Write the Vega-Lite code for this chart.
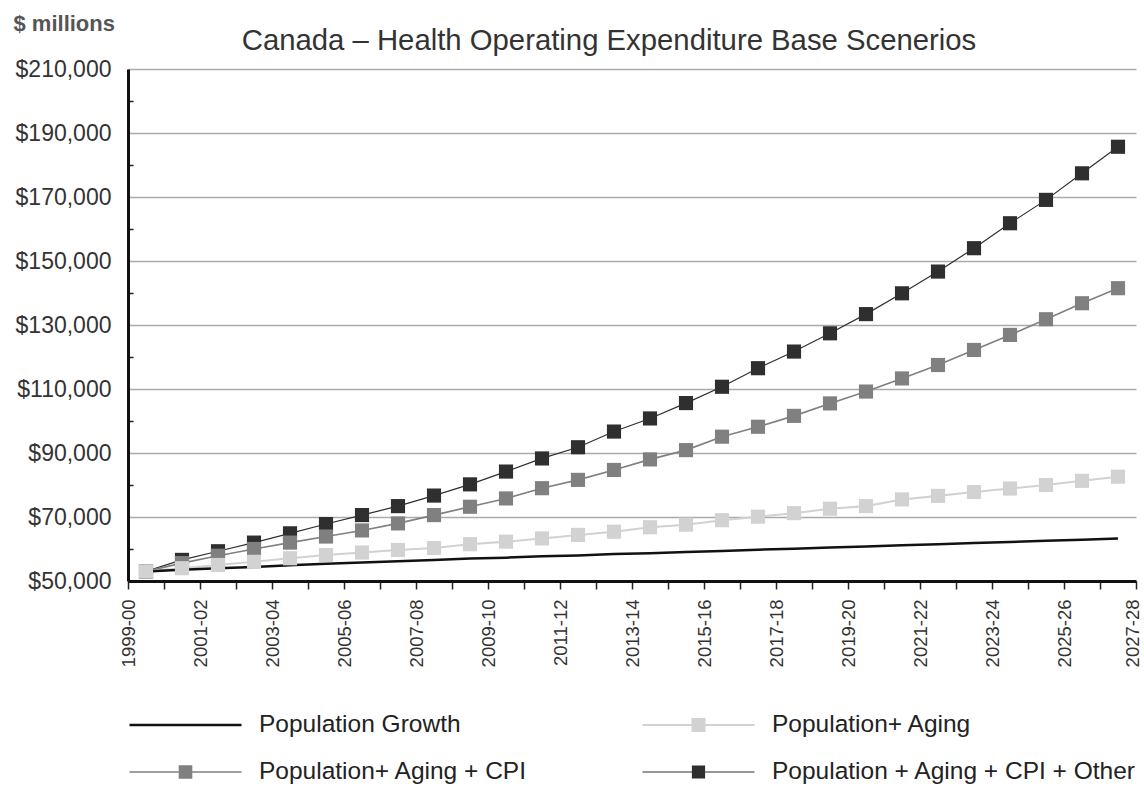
{
  "$schema": "https://vega.github.io/schema/vega-lite/v6.json",
  "width": 1008,
  "height": 512,
  "autosize": {"type": "none"},
  "padding": {"left": 128, "top": 69, "right": 8, "bottom": 207},
  "background": "white",
  "config": {"view": {"stroke": null}, "font": "Liberation Sans"},
  "title": {
    "text": "Canada – Health Operating Expenditure Base Scenerios",
    "font": "Liberation Sans",
    "fontSize": 29.3,
    "fontWeight": "normal",
    "color": "#333333",
    "anchor": "middle",
    "frame": "group",
    "dx": -23,
    "dy": 44,
    "offset": 0
  },
  "datasets": {
    "main": [
      {"year": "1999-00", "series": "Population + Aging + CPI + Other", "value": 53000},
      {"year": "2000-01", "series": "Population + Aging + CPI + Other", "value": 56600},
      {"year": "2001-02", "series": "Population + Aging + CPI + Other", "value": 59300},
      {"year": "2002-03", "series": "Population + Aging + CPI + Other", "value": 62000},
      {"year": "2003-04", "series": "Population + Aging + CPI + Other", "value": 64900},
      {"year": "2004-05", "series": "Population + Aging + CPI + Other", "value": 67800},
      {"year": "2005-06", "series": "Population + Aging + CPI + Other", "value": 70600},
      {"year": "2006-07", "series": "Population + Aging + CPI + Other", "value": 73400},
      {"year": "2007-08", "series": "Population + Aging + CPI + Other", "value": 76700},
      {"year": "2008-09", "series": "Population + Aging + CPI + Other", "value": 80200},
      {"year": "2009-10", "series": "Population + Aging + CPI + Other", "value": 84200},
      {"year": "2010-11", "series": "Population + Aging + CPI + Other", "value": 88300},
      {"year": "2011-12", "series": "Population + Aging + CPI + Other", "value": 91800},
      {"year": "2012-13", "series": "Population + Aging + CPI + Other", "value": 96700},
      {"year": "2013-14", "series": "Population + Aging + CPI + Other", "value": 100800},
      {"year": "2014-15", "series": "Population + Aging + CPI + Other", "value": 105600},
      {"year": "2015-16", "series": "Population + Aging + CPI + Other", "value": 110700},
      {"year": "2016-17", "series": "Population + Aging + CPI + Other", "value": 116500},
      {"year": "2017-18", "series": "Population + Aging + CPI + Other", "value": 121700},
      {"year": "2018-19", "series": "Population + Aging + CPI + Other", "value": 127400},
      {"year": "2019-20", "series": "Population + Aging + CPI + Other", "value": 133400},
      {"year": "2020-21", "series": "Population + Aging + CPI + Other", "value": 139900},
      {"year": "2021-22", "series": "Population + Aging + CPI + Other", "value": 146700},
      {"year": "2022-23", "series": "Population + Aging + CPI + Other", "value": 154000},
      {"year": "2023-24", "series": "Population + Aging + CPI + Other", "value": 161800},
      {"year": "2024-25", "series": "Population + Aging + CPI + Other", "value": 169100},
      {"year": "2025-26", "series": "Population + Aging + CPI + Other", "value": 177400},
      {"year": "2026-27", "series": "Population + Aging + CPI + Other", "value": 185700},
      {"year": "1999-00", "series": "Population+ Aging + CPI", "value": 53000},
      {"year": "2000-01", "series": "Population+ Aging + CPI", "value": 55600},
      {"year": "2001-02", "series": "Population+ Aging + CPI", "value": 57900},
      {"year": "2002-03", "series": "Population+ Aging + CPI", "value": 60000},
      {"year": "2003-04", "series": "Population+ Aging + CPI", "value": 62000},
      {"year": "2004-05", "series": "Population+ Aging + CPI", "value": 63900},
      {"year": "2005-06", "series": "Population+ Aging + CPI", "value": 65800},
      {"year": "2006-07", "series": "Population+ Aging + CPI", "value": 68000},
      {"year": "2007-08", "series": "Population+ Aging + CPI", "value": 70600},
      {"year": "2008-09", "series": "Population+ Aging + CPI", "value": 73200},
      {"year": "2009-10", "series": "Population+ Aging + CPI", "value": 75800},
      {"year": "2010-11", "series": "Population+ Aging + CPI", "value": 79000},
      {"year": "2011-12", "series": "Population+ Aging + CPI", "value": 81600},
      {"year": "2012-13", "series": "Population+ Aging + CPI", "value": 84700},
      {"year": "2013-14", "series": "Population+ Aging + CPI", "value": 88000},
      {"year": "2014-15", "series": "Population+ Aging + CPI", "value": 90900},
      {"year": "2015-16", "series": "Population+ Aging + CPI", "value": 95100},
      {"year": "2016-17", "series": "Population+ Aging + CPI", "value": 98200},
      {"year": "2017-18", "series": "Population+ Aging + CPI", "value": 101600},
      {"year": "2018-19", "series": "Population+ Aging + CPI", "value": 105500},
      {"year": "2019-20", "series": "Population+ Aging + CPI", "value": 109200},
      {"year": "2020-21", "series": "Population+ Aging + CPI", "value": 113300},
      {"year": "2021-22", "series": "Population+ Aging + CPI", "value": 117500},
      {"year": "2022-23", "series": "Population+ Aging + CPI", "value": 122200},
      {"year": "2023-24", "series": "Population+ Aging + CPI", "value": 126900},
      {"year": "2024-25", "series": "Population+ Aging + CPI", "value": 131800},
      {"year": "2025-26", "series": "Population+ Aging + CPI", "value": 136800},
      {"year": "2026-27", "series": "Population+ Aging + CPI", "value": 141500},
      {"year": "1999-00", "series": "Population+ Aging", "value": 53000},
      {"year": "2000-01", "series": "Population+ Aging", "value": 54000},
      {"year": "2001-02", "series": "Population+ Aging", "value": 55000},
      {"year": "2002-03", "series": "Population+ Aging", "value": 56000},
      {"year": "2003-04", "series": "Population+ Aging", "value": 57100},
      {"year": "2004-05", "series": "Population+ Aging", "value": 58100},
      {"year": "2005-06", "series": "Population+ Aging", "value": 58900},
      {"year": "2006-07", "series": "Population+ Aging", "value": 59700},
      {"year": "2007-08", "series": "Population+ Aging", "value": 60300},
      {"year": "2008-09", "series": "Population+ Aging", "value": 61500},
      {"year": "2009-10", "series": "Population+ Aging", "value": 62300},
      {"year": "2010-11", "series": "Population+ Aging", "value": 63300},
      {"year": "2011-12", "series": "Population+ Aging", "value": 64400},
      {"year": "2012-13", "series": "Population+ Aging", "value": 65400},
      {"year": "2013-14", "series": "Population+ Aging", "value": 66800},
      {"year": "2014-15", "series": "Population+ Aging", "value": 67600},
      {"year": "2015-16", "series": "Population+ Aging", "value": 69000},
      {"year": "2016-17", "series": "Population+ Aging", "value": 70100},
      {"year": "2017-18", "series": "Population+ Aging", "value": 71200},
      {"year": "2018-19", "series": "Population+ Aging", "value": 72600},
      {"year": "2019-20", "series": "Population+ Aging", "value": 73400},
      {"year": "2020-21", "series": "Population+ Aging", "value": 75500},
      {"year": "2021-22", "series": "Population+ Aging", "value": 76600},
      {"year": "2022-23", "series": "Population+ Aging", "value": 77800},
      {"year": "2023-24", "series": "Population+ Aging", "value": 78900},
      {"year": "2024-25", "series": "Population+ Aging", "value": 80000},
      {"year": "2025-26", "series": "Population+ Aging", "value": 81300},
      {"year": "2026-27", "series": "Population+ Aging", "value": 82600},
      {"year": "1999-00", "series": "Population Growth", "value": 53000},
      {"year": "2000-01", "series": "Population Growth", "value": 53500},
      {"year": "2001-02", "series": "Population Growth", "value": 54000},
      {"year": "2002-03", "series": "Population Growth", "value": 54400},
      {"year": "2003-04", "series": "Population Growth", "value": 54900},
      {"year": "2004-05", "series": "Population Growth", "value": 55400},
      {"year": "2005-06", "series": "Population Growth", "value": 55800},
      {"year": "2006-07", "series": "Population Growth", "value": 56200},
      {"year": "2007-08", "series": "Population Growth", "value": 56600},
      {"year": "2008-09", "series": "Population Growth", "value": 57000},
      {"year": "2009-10", "series": "Population Growth", "value": 57300},
      {"year": "2010-11", "series": "Population Growth", "value": 57700},
      {"year": "2011-12", "series": "Population Growth", "value": 58000},
      {"year": "2012-13", "series": "Population Growth", "value": 58400},
      {"year": "2013-14", "series": "Population Growth", "value": 58700},
      {"year": "2014-15", "series": "Population Growth", "value": 59100},
      {"year": "2015-16", "series": "Population Growth", "value": 59400},
      {"year": "2016-17", "series": "Population Growth", "value": 59800},
      {"year": "2017-18", "series": "Population Growth", "value": 60100},
      {"year": "2018-19", "series": "Population Growth", "value": 60500},
      {"year": "2019-20", "series": "Population Growth", "value": 60800},
      {"year": "2020-21", "series": "Population Growth", "value": 61200},
      {"year": "2021-22", "series": "Population Growth", "value": 61500},
      {"year": "2022-23", "series": "Population Growth", "value": 61900},
      {"year": "2023-24", "series": "Population Growth", "value": 62200},
      {"year": "2024-25", "series": "Population Growth", "value": 62600},
      {"year": "2025-26", "series": "Population Growth", "value": 62900},
      {"year": "2026-27", "series": "Population Growth", "value": 63300}
    ],
    "ticks": [
      {"label": "1999-00"}, {"label": "2000-01"}, {"label": "2001-02"}, {"label": "2002-03"},
      {"label": "2003-04"}, {"label": "2004-05"}, {"label": "2005-06"}, {"label": "2006-07"},
      {"label": "2007-08"}, {"label": "2008-09"}, {"label": "2009-10"}, {"label": "2010-11"},
      {"label": "2011-12"}, {"label": "2012-13"}, {"label": "2013-14"}, {"label": "2014-15"},
      {"label": "2015-16"}, {"label": "2016-17"}, {"label": "2017-18"}, {"label": "2018-19"},
      {"label": "2019-20"}, {"label": "2020-21"}, {"label": "2021-22"}, {"label": "2022-23"},
      {"label": "2023-24"}, {"label": "2024-25"}, {"label": "2025-26"}, {"label": "2026-27"},
      {"label": "2027-28"}
    ]
  },
  "layer": [
    {
      "data": {"name": "main"},
      "encoding": {
        "x": {"field": "year", "type": "ordinal", "scale": {"type": "point", "padding": 0.5}, "axis": null},
        "y": {
          "field": "value",
          "type": "quantitative",
          "scale": {"domain": [50000, 210000], "nice": false, "zero": false},
          "axis": {
            "values": [50000, 60000, 70000, 80000, 90000, 100000, 110000, 120000, 130000, 140000, 150000, 160000, 170000, 180000, 190000, 200000, 210000],
            "labelExpr": "datum.value % 20000 == 10000 ? '$' + format(datum.value, ',') : ''",
            "labelFont": "Liberation Sans",
            "labelFontSize": 23,
            "labelColor": "#333333",
            "labelPadding": 22,
            "tickSize": -5,
            "tickColor": "#222222",
            "tickWidth": 1.5,
            "tickOpacity": {"condition": {"test": "datum.value % 20000 == 0", "value": 1}, "value": 0},
            "grid": true,
            "gridColor": "#aaaaaa",
            "gridWidth": 1.5,
            "gridOpacity": {"condition": {"test": "datum.value % 20000 == 10000", "value": 1}, "value": 0},
            "domain": true,
            "domainColor": "#111111",
            "domainWidth": 3,
            "title": "$ millions",
            "titleFont": "Liberation Sans",
            "titleFontSize": 22,
            "titleFontWeight": "bold",
            "titleColor": "#555555",
            "titleAngle": 0,
            "titleAlign": "left",
            "titleBaseline": "alphabetic",
            "titleX": -115,
            "titleY": -39
          }
        },
        "color": {
          "field": "series",
          "type": "nominal",
          "scale": {
            "domain": ["Population Growth", "Population+ Aging", "Population+ Aging + CPI", "Population + Aging + CPI + Other"],
            "range": ["#111111", "#d2d2d2", "#808080", "#2f2f2f"]
          },
          "legend": {
            "orient": "none",
            "legendX": 0,
            "legendY": 644,
            "direction": "horizontal",
            "columns": 2,
            "columnPadding": 113,
            "rowPadding": 22,
            "title": null,
            "symbolType": "M-1,0H1M-0.107,-0.107H0.107V0.107H-0.107Z",
            "symbolSize": 12544,
            "symbolStrokeWidth": 1.5,
            "clipHeight": 24,
            "labelFont": "Liberation Sans",
            "labelFontSize": 24.5,
            "labelColor": "#222222",
            "labelOffset": 16,
            "labelLimit": 0,
            "encode": {
              "symbols": {
                "update": {
                  "shape": {"signal": "datum.value === 'Population Growth' ? 'M-1,0H1' : 'M-1,0H1M-0.107,-0.107H0.107V0.107H-0.107Z'"},
                  "fill": {"scale": "color", "field": "value"},
                  "stroke": {"scale": "color", "field": "value"},
                  "strokeWidth": {"signal": "datum.value === 'Population Growth' || datum.value === 'Population + Aging + CPI + Other' ? 2.5 : 1.5"},
                  "opacity": {"value": 1}
                }
              }
            }
          }
        }
      },
      "layer": [
        {
          "mark": {"type": "line"},
          "encoding": {
            "strokeWidth": {
              "field": "series",
              "type": "nominal",
              "scale": {
                "domain": ["Population Growth", "Population+ Aging", "Population+ Aging + CPI", "Population + Aging + CPI + Other"],
                "range": [2.5, 1.2, 1.5, 2]
              },
              "legend": null
            }
          }
        },
        {
          "transform": [{"filter": "datum.series !== 'Population Growth'"}],
          "mark": {"type": "point", "shape": "square", "filled": true, "size": 200, "opacity": 1, "strokeWidth": 0}
        }
      ]
    },
    {
      "data": {"name": "ticks"},
      "mark": {"type": "rule", "opacity": 0},
      "encoding": {
        "x": {
          "field": "label",
          "type": "ordinal",
          "scale": {"type": "point", "padding": 0},
          "axis": {
            "orient": "bottom",
            "title": null,
            "grid": false,
            "domain": true,
            "domainColor": "#111111",
            "domainWidth": 3,
            "ticks": true,
            "tickSize": 8,
            "tickColor": "#222222",
            "tickWidth": 1.5,
            "labelAngle": -90,
            "labelFont": "Liberation Sans",
            "labelFontSize": 18.5,
            "labelColor": "#333333",
            "labelPadding": 10,
            "labelOffset": {"condition": {"test": "datum.label == '2027-28'", "value": -4}, "value": 0},
            "labelExpr": "parseInt(substring(datum.label, 0, 4)) % 2 == 1 ? datum.label : ''"
          }
        }
      }
    }
  ],
  "resolve": {"scale": {"x": "independent"}, "axis": {"x": "independent"}}
}
